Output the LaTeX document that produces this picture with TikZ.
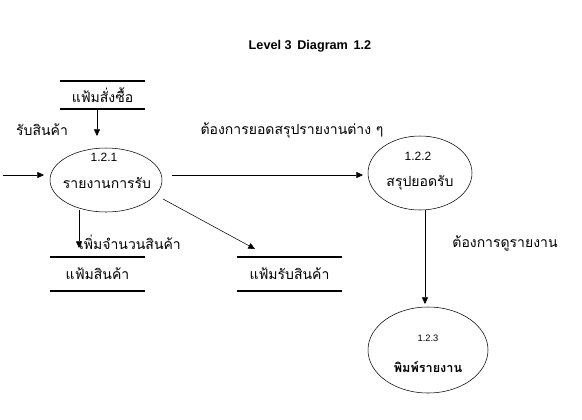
\documentclass[tikz,border=0pt]{standalone}
\usepackage{fontspec}
\setmainfont{Liberation Sans}
\newfontfamily\thaifont[Script=Thai]{Loma}
\usetikzlibrary{arrows.meta, shapes.geometric, calc}

\begin{document}
\begin{tikzpicture}[x=0.75pt, y=-0.75pt,
                    process/.style={ellipse, draw, thin, inner sep=0pt},
                    thai/.style={font=\thaifont\fontsize{10.5}{12}\selectfont, inner sep=0pt},
                    num/.style={font=\fontsize{9}{10}\selectfont, inner sep=0pt},
                    storeline/.style={line width=1.5pt},
                    flow/.style={-{Triangle[length=5pt, width=4.5pt]}, thin}]

            \useasboundingbox (0,0) rectangle (582,419);

            \node[font=\bfseries\fontsize{9.5}{11}\selectfont] (title) at (310,46) {Level 3\, Diagram\, 1.2};

            % processes
            \node[process, minimum width=84pt, minimum height=48pt] (p1) at (106,180) {};
            \node[num] (p1n) at (104,157) {1.2.1};
            \node[thai] (p1t) at (107,183) {รายงานการรับ};

            \node[process, minimum width=78pt, minimum height=55.5pt] (p2) at (420,173) {};
            \node[num] (p2n) at (418,156) {1.2.2};
            \node[thai] (p2t) at (420,183) {สรุปยอดรับ};

            \node[process, minimum width=90pt, minimum height=64.5pt] (p3) at (428,350) {};
            \node[num, font=\fontsize{7}{8}\selectfont] (p3n) at (428,338) {1.2.3};
            \node[thai, font=\thaifont\bfseries\fontsize{9.5}{11}\selectfont] (p3t) at (428,367) {พิมพ์รายงาน};

            % data stores
            \node[thai, minimum width=64pt, minimum height=21pt] (d1) at (102.5,95) {แฟ้มสั่งซื้อ};
            \draw[storeline] (d1.north west) -- (d1.north east);
            \draw[storeline] (d1.south west) -- (d1.south east);

            \node[thai, minimum width=71pt, minimum height=25.5pt] (d2) at (97.5,274) {แฟ้มสินค้า};
            \draw[storeline] (d2.north west) -- (d2.north east);
            \draw[storeline] (d2.south west) -- (d2.south east);

            \node[thai, minimum width=79pt, minimum height=25.5pt] (d3) at (289.5,274) {แฟ้มรับสินค้า};
            \draw[storeline] (d3.north west) -- (d3.north east);
            \draw[storeline] (d3.south west) -- (d3.south east);

            % flows
            \coordinate (src) at (3,175);
            \coordinate (d1a) at (97,109);
            \coordinate (p1a) at (97,136);
            \coordinate (p1l) at (44,175);
            \coordinate (p1r) at (172,175);
            \coordinate (p2l) at (363,175);
            \coordinate (p1b) at (79,210);
            \coordinate (d2a) at (79,248);
            \coordinate (p1d) at (163,199);
            \coordinate (d3a) at (255,249);
            \coordinate (p2b) at (425,210);
            \coordinate (p3a) at (425,304);

            \draw[flow] (d1a) -- (p1a);
            \draw[flow] (src) -- (p1l);
            \draw[flow] (p1r) -- (p2l);
            \draw[flow] (p1b) -- (d2a);
            \draw[flow] (p1d) -- (d3a);
            \draw[flow] (p2b) -- (p3a);

            \node[thai] (l1) at (42,130) {รับสินค้า};
            \node[thai] (l2) at (292,130) {ต้องการยอดสรุปรายงานต่าง ๆ};
            \node[thai] (l3) at (130,242) {เพิ่มจำนวนสินค้า};
            \node[thai] (l4) at (505,243) {ต้องการดูรายงาน};
        \end{tikzpicture}
\end{document}
